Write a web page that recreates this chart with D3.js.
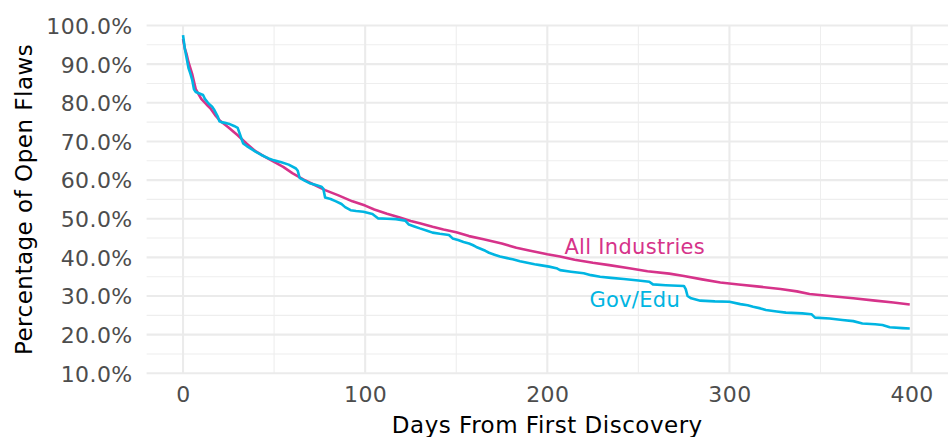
<!DOCTYPE html>
<html>
<head>
<meta charset="utf-8">
<script src="https://cdn.jsdelivr.net/npm/d3@7"></script>
<style>
  html, body { margin: 0; padding: 0; background: #ffffff; }
  svg { display: block; }
  text { font-family: "DejaVu Sans", sans-serif; }
</style>
</head>
<body>
<svg id="chart" width="950" height="437"></svg>
<script>
// Share of flaws still open, by days since first discovery
const allDays = [0, 1, 2, 3, 5, 7, 10, 13, 15, 18, 20, 25, 30, 35, 40, 45, 50, 55, 60, 66, 72, 78, 85, 93, 100,
  105, 112, 119, 125, 130, 137, 143, 150, 157, 165, 175, 183, 190, 200, 207, 215, 225, 234, 245, 255, 267,
  275, 285, 295, 305, 315, 328, 337, 344, 355, 368, 380, 390, 399];
const allPct = [0.965, 0.94, 0.925, 0.905, 0.875, 0.835, 0.81, 0.795, 0.786, 0.766, 0.755, 0.736, 0.716, 0.694,
  0.674, 0.660, 0.647, 0.634, 0.618, 0.602, 0.588, 0.574, 0.561, 0.545, 0.534, 0.524, 0.513, 0.503, 0.494,
  0.488, 0.479, 0.472, 0.465, 0.455, 0.447, 0.436, 0.425, 0.418, 0.408, 0.402, 0.394, 0.386, 0.380, 0.372,
  0.364, 0.358, 0.352, 0.343, 0.335, 0.330, 0.325, 0.318, 0.312, 0.305, 0.300, 0.294, 0.288, 0.283, 0.278];

const govDays = [0, 1, 2, 3, 4, 5, 6, 7, 9, 11, 12, 14, 16, 17, 19, 20, 21, 23, 25, 28, 30, 31, 33, 35, 37, 40,
  43, 47, 50, 54, 58, 62, 63, 64, 67, 70, 73, 76, 77, 78, 81, 84, 87, 89, 92, 95, 99, 104, 107, 112, 117, 122,
  124, 127, 130, 134, 137, 141, 146, 148, 151, 154, 157, 159, 161, 163, 166, 168, 171, 174, 178, 181, 185, 189,
  193, 196, 201, 205, 207, 213, 220, 224, 229, 235, 242, 250, 256, 258, 265, 275, 276, 277, 279, 284, 292, 300,
  306, 310, 313, 317, 320, 326, 331, 340, 345, 347, 355, 362, 368, 373, 380, 384, 388, 395, 399];
const govPct = [0.975, 0.94, 0.915, 0.89, 0.876, 0.86, 0.835, 0.828, 0.824, 0.82, 0.81, 0.798, 0.79, 0.783,
  0.765, 0.752, 0.750, 0.748, 0.746, 0.740, 0.735, 0.722, 0.695, 0.688, 0.682, 0.673, 0.665, 0.656, 0.651,
  0.646, 0.640, 0.630, 0.624, 0.606, 0.598, 0.591, 0.587, 0.583, 0.578, 0.555, 0.551, 0.545, 0.538, 0.530,
  0.522, 0.520, 0.518, 0.512, 0.501, 0.500, 0.499, 0.495, 0.485, 0.480, 0.475, 0.469, 0.464, 0.461, 0.458,
  0.449, 0.445, 0.440, 0.436, 0.432, 0.427, 0.423, 0.417, 0.412, 0.407, 0.402, 0.398, 0.395, 0.390, 0.386,
  0.382, 0.380, 0.376, 0.372, 0.367, 0.363, 0.359, 0.354, 0.350, 0.347, 0.344, 0.340, 0.337, 0.330, 0.328,
  0.326, 0.318, 0.300, 0.294, 0.288, 0.286, 0.285, 0.279, 0.276, 0.272, 0.268, 0.264, 0.260, 0.257, 0.255,
  0.253, 0.244, 0.242, 0.238, 0.235, 0.229, 0.227, 0.225, 0.219, 0.217, 0.216];

const xTicks = [0, 100, 200, 300, 400];
const xMinor = [50, 150, 250, 350];
const yTicks = [0.1, 0.2, 0.3, 0.4, 0.5, 0.6, 0.7, 0.8, 0.9, 1.0];
const yMinor = [0.15, 0.25, 0.35, 0.45, 0.55, 0.65, 0.75, 0.85, 0.95];

const seriesNames = ["All Industries", "Gov/Edu"];
const seriesColors = ["#d6338a", "#00b5e2"];
const labelDay = 248;
const labelPct = [0.429, 0.292];

const svg = d3.select("#chart");
const panel = { left: 146.6, right: 948, top: 25.5, bottom: 373.3 };

const x = d3.scaleLinear().domain([-20, 420]).range([panel.left, panel.right]);
const y = d3.scaleLinear().domain([0.1, 1.0]).range([panel.bottom, panel.top]);

const grid = svg.append("g");
// minor grid
grid.selectAll("line.ymin").data(yMinor).join("line")
  .attr("x1", panel.left).attr("x2", panel.right)
  .attr("y1", d => y(d)).attr("y2", d => y(d))
  .attr("stroke", "#eeeeee").attr("stroke-width", 1.1);
grid.selectAll("line.xmin").data(xMinor).join("line")
  .attr("y1", panel.top).attr("y2", panel.bottom)
  .attr("x1", d => x(d)).attr("x2", d => x(d))
  .attr("stroke", "#eeeeee").attr("stroke-width", 1.1);
// major grid
grid.selectAll("line.ymaj").data(yTicks).join("line")
  .attr("x1", panel.left).attr("x2", panel.right)
  .attr("y1", d => y(d)).attr("y2", d => y(d))
  .attr("stroke", "#ebebeb").attr("stroke-width", 2.1);
grid.selectAll("line.xmaj").data(xTicks).join("line")
  .attr("y1", panel.top).attr("y2", panel.bottom)
  .attr("x1", d => x(d)).attr("x2", d => x(d))
  .attr("stroke", "#ebebeb").attr("stroke-width", 2.1);

// axes (labels only, no domain or tick marks)
const fmt = d3.format(".1%");
const yAxis = svg.append("g")
  .attr("transform", `translate(${panel.left - 14},0)`)
  .call(d3.axisLeft(y).tickValues(yTicks).tickFormat(fmt).tickSize(0).tickPadding(0));
const xAxis = svg.append("g")
  .attr("transform", "translate(0,402)")
  .call(d3.axisBottom(x).tickValues(xTicks).tickFormat(d3.format("d")).tickSize(0).tickPadding(0));
[yAxis, xAxis].forEach(g => {
  g.select(".domain").remove();
  g.selectAll("text")
    .attr("fill", "#4d4d4d")
    .style("font-family", '"DejaVu Sans", sans-serif')
    .style("font-size", "22px")
    .style("letter-spacing", "0.4px");
});
yAxis.selectAll("text").attr("dy", "0.36em");
xAxis.selectAll("text").attr("y", 0).attr("dy", 0);

// axis titles
svg.append("text")
  .attr("x", x(200)).attr("y", 433)
  .attr("text-anchor", "middle")
  .attr("fill", "#000000")
  .style("font-size", "23px")
  .style("letter-spacing", "0.5px")
  .text("Days From First Discovery");
svg.append("text")
  .attr("transform", `translate(32,${(panel.top + panel.bottom) / 2}) rotate(-90)`)
  .attr("text-anchor", "middle")
  .attr("fill", "#000000")
  .style("font-size", "23px")
  .style("letter-spacing", "0.5px")
  .text("Percentage of Open Flaws");

// lines
const line = d3.line().x(d => x(d[0])).y(d => y(d[1]));
const series = [
  d3.zip(allDays, allPct),
  d3.zip(govDays, govPct)
];
svg.append("g").selectAll("path").data(series).join("path")
  .attr("d", line)
  .attr("fill", "none")
  .attr("stroke", (d, i) => seriesColors[i])
  .attr("stroke-width", 2.6)
  .attr("stroke-linejoin", "round");

// series labels
svg.append("g").selectAll("text").data(seriesNames).join("text")
  .attr("x", x(labelDay))
  .attr("y", (d, i) => y(labelPct[i]))
  .attr("text-anchor", "middle")
  .attr("dy", "0.36em")
  .attr("fill", (d, i) => seriesColors[i])
  .style("font-size", "21px")
  .style("letter-spacing", "0.3px")
  .text(d => d);
</script>
</body>
</html>
